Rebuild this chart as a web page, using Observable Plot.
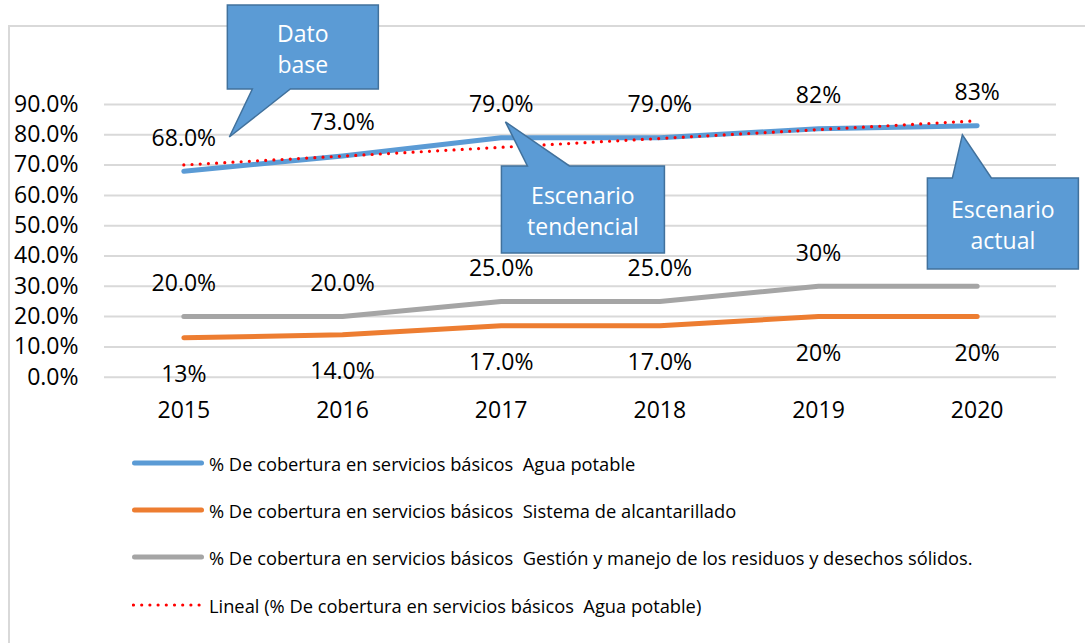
<!DOCTYPE html>
<html>
<head>
<meta charset="utf-8">
<script src="https://cdn.jsdelivr.net/npm/d3@7"></script>
<script src="https://cdn.jsdelivr.net/npm/@observablehq/plot@0.6"></script>
<style>
  html, body { margin: 0; padding: 0; background: #fff; }
  #wrap { position: relative; width: 1085px; height: 643px; overflow: hidden; font-family: "Open Sans", sans-serif; }
  #frame { position: absolute; left: 8px; top: 25px; width: 1200px; height: 700px; border-left: 2px solid #d9d9d9; border-top: 2px solid #d9d9d9; }
  #chart { position: absolute; left: 0; top: 0; }
  #legend { position: absolute; left: 0; top: 0; }
  .row { position: absolute; left: 132px; height: 26px; display: flex; align-items: center; }
  .row span { white-space: pre; font-size: 18.3px; color: #000; margin-left: 5px; }
</style>
</head>
<body>
<div id="wrap">
  <div id="frame"></div>
  <div id="chart"></div>
  <div id="legend"></div>
</div>
<script>
// ---- data ----
const years = [2015, 2016, 2017, 2018, 2019, 2020];
const agua = [68, 73, 79, 79, 82, 83];
const alcantarillado = [13, 14, 17, 17, 20, 20];
const residuos = [20, 20, 25, 25, 30, 30];
const aguaLabels = ["68.0%", "73.0%", "79.0%", "79.0%", "82%", "83%"];
const alcLabels = ["13%", "14.0%", "17.0%", "17.0%", "20%", "20%"];
const resLabels = ["20.0%", "20.0%", "25.0%", "25.0%", "30%", ""]; // 2020 label is hidden behind a callout in the reference
const yTicks = [0, 10, 20, 30, 40, 50, 60, 70, 80, 90];
const seriesNames = [
  "% De cobertura en servicios básicos  Agua potable",
  "% De cobertura en servicios básicos  Sistema de alcantarillado",
  "% De cobertura en servicios básicos  Gestión y manejo de los residuos y desechos sólidos.",
  "Lineal (% De cobertura en servicios básicos  Agua potable)"
];
const seriesColors = ["#5B9BD5", "#ED7D31", "#A5A5A5", "#FF0000"];
// callout texts and the data point each pointer tip refers to
const calloutTexts = [["Dato", "base"], ["Escenario", "tendencial"], ["Escenario", "actual"]];
const calloutTipYears = [2015.29, 2017.03, 2019.91];
const calloutTipValues = [79.1, 84.1, 79.8];

// ---- tables ----
const rows = (vals, labels) => years.map((y, i) => ({year: y, value: vals[i], label: labels[i]}));
const aguaT = rows(agua, aguaLabels);
const alcT = rows(alcantarillado, alcLabels);
const resT = rows(residuos, resLabels);

// callout layout (pixel offsets from the tip)
const calloutGeom = [
  {box: [-2, 149, -132, -48], base: [23, 61], side: "bottom"},
  {box: [-4, 159, 44, 131], base: [22, 64], side: "top"},
  {box: [-35, 116, 43, 134], base: [-10, 29], side: "top"}
];

function callouts(index, scales) {
  const g = d3.create("svg:g");
  calloutTexts.forEach((lines, i) => {
    const tx = scales.x(calloutTipYears[i]);
    const ty = scales.y(calloutTipValues[i]);
    const c = calloutGeom[i];
    const x0 = tx + c.box[0], x1 = tx + c.box[1], y0 = ty + c.box[2], y1 = ty + c.box[3];
    const b0 = tx + c.base[0], b1 = tx + c.base[1];
    let d;
    if (c.side === "bottom") {
      d = `M${x0},${y0}L${x1},${y0}L${x1},${y1}L${b1},${y1}L${tx},${ty}L${b0},${y1}L${x0},${y1}Z`;
    } else {
      d = `M${x0},${y0}L${b0},${y0}L${tx},${ty}L${b1},${y0}L${x1},${y0}L${x1},${y1}L${x0},${y1}Z`;
    }
    g.append("path").attr("d", d).attr("fill", "#5B9BD5").attr("stroke", "#41719C").attr("stroke-width", 1.5);
    const cx = (x0 + x1) / 2, cy = (y0 + y1) / 2 + 1;
    lines.forEach((t, j) => {
      g.append("text")
        .attr("x", cx).attr("y", cy + (j - (lines.length - 1) / 2) * 31)
        .attr("text-anchor", "middle").attr("dominant-baseline", "central")
        .attr("fill", "#fff").attr("font-size", 23).attr("font-family", "Open Sans, sans-serif")
        .text(t);
    });
  });
  return g.node();
}

const plot = Plot.plot({
  width: 1085,
  height: 440,
  marginTop: 104,
  marginBottom: 63.3,
  marginLeft: 104,
  marginRight: 29,
  style: {fontFamily: "Open Sans, sans-serif", fontSize: "23px", background: "transparent", overflow: "visible"},
  x: {domain: [2014.5, 2020.5], label: null},
  y: {domain: [0, 90], label: null},
  marks: [
    Plot.ruleY(yTicks, {stroke: "#d9d9d9", strokeWidth: 2}),
    Plot.axisX({ticks: years, tickFormat: d => String(d), tickSize: 0, tickPadding: 24, fontSize: 23, fill: "#000", label: null}),
    Plot.axisY({ticks: yTicks, tickFormat: d => d.toFixed(1) + "%", tickSize: 0, tickPadding: 26, fontSize: 23, fill: "#000", label: null}),
    Plot.line(resT, {x: "year", y: "value", stroke: seriesColors[2], strokeWidth: 5, strokeLinecap: "round", strokeLinejoin: "round"}),
    Plot.line(alcT, {x: "year", y: "value", stroke: seriesColors[1], strokeWidth: 5, strokeLinecap: "round", strokeLinejoin: "round"}),
    Plot.line(aguaT, {x: "year", y: "value", stroke: seriesColors[0], strokeWidth: 5, strokeLinecap: "round", strokeLinejoin: "round"}),
    Plot.linearRegressionY(aguaT, {x: "year", y: "value", ci: 0, stroke: seriesColors[3], strokeWidth: 3.2, strokeDasharray: "0,8.2", strokeLinecap: "round"}),
    Plot.text(aguaT, {x: "year", y: "value", text: "label", dy: -33, fontSize: 23, fill: "#000"}),
    Plot.text(resT.filter(d => d.label), {x: "year", y: "value", text: "label", dy: -33, fontSize: 23, fill: "#000"}),
    Plot.text(alcT, {x: "year", y: "value", text: "label", dy: 37, fontSize: 23, fill: "#000"}),
    callouts
  ]
});
document.getElementById("chart").appendChild(plot);

// ---- legend ----
const legendTops = [463, 510, 557, 605];
const legend = document.getElementById("legend");
seriesNames.forEach((name, i) => {
  const row = document.createElement("div");
  row.className = "row";
  row.style.top = (legendTops[i] - 13) + "px";
  const dotted = i === 3;
  row.innerHTML = `<svg width="72" height="10"><line x1="${dotted ? 1.5 : 2.5}" x2="${dotted ? 70.5 : 69.5}" y1="5" y2="5" stroke="${seriesColors[i]}" stroke-width="${dotted ? 3.2 : 5}" stroke-linecap="round" ${dotted ? 'stroke-dasharray="0,8.2"' : ''}/></svg><span></span>`;
  row.querySelector("span").textContent = name;
  legend.appendChild(row);
});
</script>
</body>
</html>
